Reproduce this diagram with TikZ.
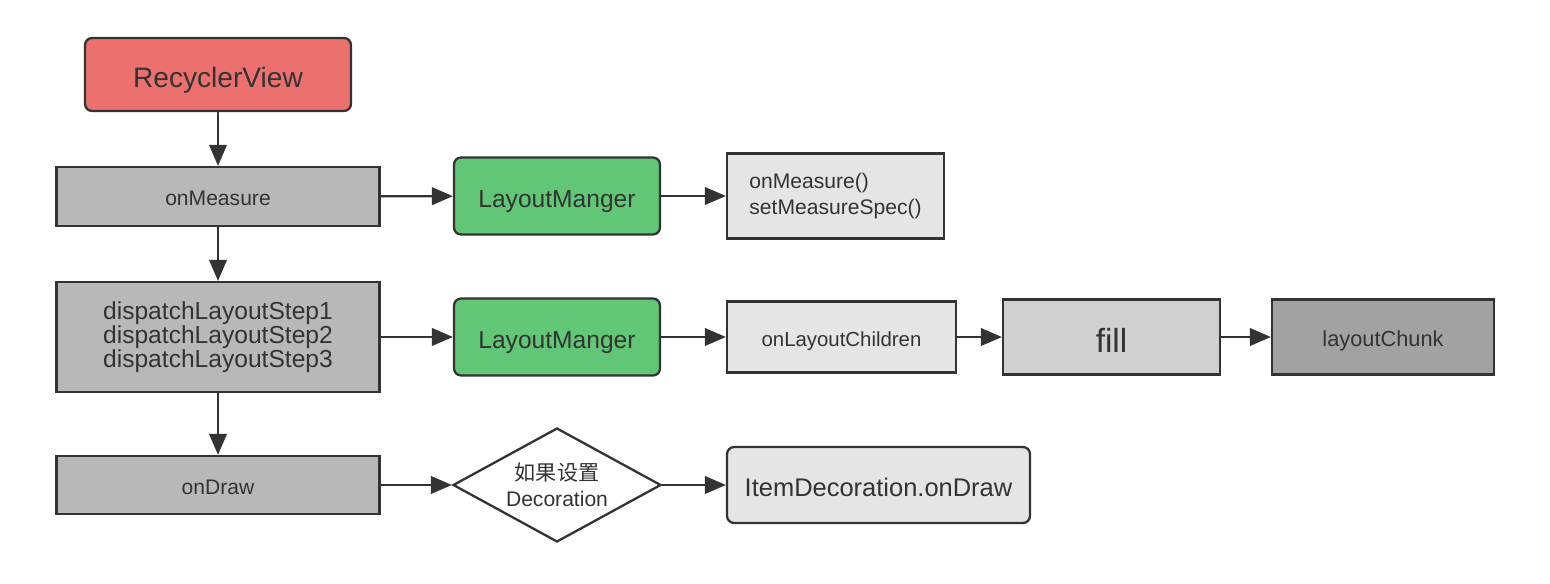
\documentclass[tikz,border=0pt]{standalone}
\usepackage{fontspec}
\setmainfont{Liberation Sans}
\newfontfamily\cjk{Noto Sans CJK SC}
\usetikzlibrary{arrows.meta,shapes.geometric}
\definecolor{edgegray}{HTML}{333333}
\definecolor{rvred}{HTML}{EC706D}
\definecolor{lmgreen}{HTML}{61C776}
\definecolor{midgray}{HTML}{B8B8B8}
\definecolor{palegray}{HTML}{E5E5E5}
\definecolor{fillgray}{HTML}{D0D0D0}
\definecolor{darkbox}{HTML}{A2A2A2}

\begin{document}
\begin{tikzpicture}[x=0.02cm,y=-0.02cm,
  box/.style={draw=edgegray,line width=1.3pt,text=edgegray,inner sep=2pt},
  oneline/.style={text depth=0pt,execute at begin node={\rule{0pt}{0.9em}}},
  roundbox/.style={box,rounded corners=4pt},
  flow/.style={-{Triangle[length=12pt,width=10pt]},line width=1.3pt,draw=edgegray}]
\useasboundingbox (0,0) rectangle (1550,584);

% left column
\node[roundbox,oneline,fill=rvred,minimum width=5.32cm,minimum height=1.46cm,font=\fontsize{16}{19}\selectfont] (rv) at (218,74.5) {RecyclerView};
\node[box,oneline,fill=midgray,minimum width=6.46cm,minimum height=1.18cm,font=\fontsize{12}{14}\selectfont] (measure) at (218,196.5) {onMeasure};
\node[box,fill=midgray,minimum width=6.46cm,minimum height=2.2cm,align=center,font=\fontsize{14}{13.5}\selectfont] (dispatch) at (218,337) {dispatchLayoutStep1\\dispatchLayoutStep2\\dispatchLayoutStep3};
\node[box,oneline,fill=midgray,minimum width=6.46cm,minimum height=1.16cm,font=\fontsize{12}{14}\selectfont] (draw) at (218,485) {onDraw};

% layout managers
\node[roundbox,oneline,fill=lmgreen,minimum width=4.12cm,minimum height=1.54cm,font=\fontsize{14}{17}\selectfont] (lmA) at (557,196) {LayoutManger};
\node[roundbox,oneline,fill=lmgreen,minimum width=4.12cm,minimum height=1.54cm,font=\fontsize{14}{17}\selectfont] (lmB) at (557,337) {LayoutManger};
\node[box,diamond,aspect=1.82,fill=white,minimum width=4.16cm,minimum height=2.28cm,inner sep=0pt,align=center,font=\fontsize{12}{15}\selectfont] (deco) at (557,485) {{\cjk 如果设置}\\Decoration};

% right side
\node[box,fill=palegray,minimum width=4.34cm,minimum height=1.7cm,align=left,font=\fontsize{12}{14.5}\selectfont] (spec) at (835.5,196) {onMeasure()\\setMeasureSpec()};
\node[box,oneline,fill=palegray,minimum width=4.58cm,minimum height=1.42cm,font=\fontsize{11.6}{14}\selectfont] (children) at (841.5,337) {onLayoutChildren};
\node[box,oneline,fill=fillgray,minimum width=4.34cm,minimum height=1.5cm,font=\fontsize{19}{22}\selectfont] (fill) at (1111.5,337) {fill};
\node[box,oneline,fill=darkbox,minimum width=4.44cm,minimum height=1.5cm,font=\fontsize{12.4}{15}\selectfont] (chunk) at (1383,337) {layoutChunk};
\node[roundbox,oneline,fill=palegray,minimum width=6.06cm,minimum height=1.52cm,font=\fontsize{14.5}{17}\selectfont] (itemdraw) at (878.5,485) {ItemDecoration.onDraw};

% connectors
\draw[flow] (rv) -- (measure);
\draw[flow] (measure) -- (dispatch);
\draw[flow] (dispatch) -- (draw);
\draw[flow] (measure) -- (lmA);
\draw[flow] (lmA) -- (spec);
\draw[flow] (dispatch) -- (lmB);
\draw[flow] (lmB) -- (children);
\draw[flow] (children) -- (fill);
\draw[flow] (fill) -- (chunk);
\draw[flow] (draw) -- (deco);
\draw[flow] (deco) -- (itemdraw);
\end{tikzpicture}
\end{document}
